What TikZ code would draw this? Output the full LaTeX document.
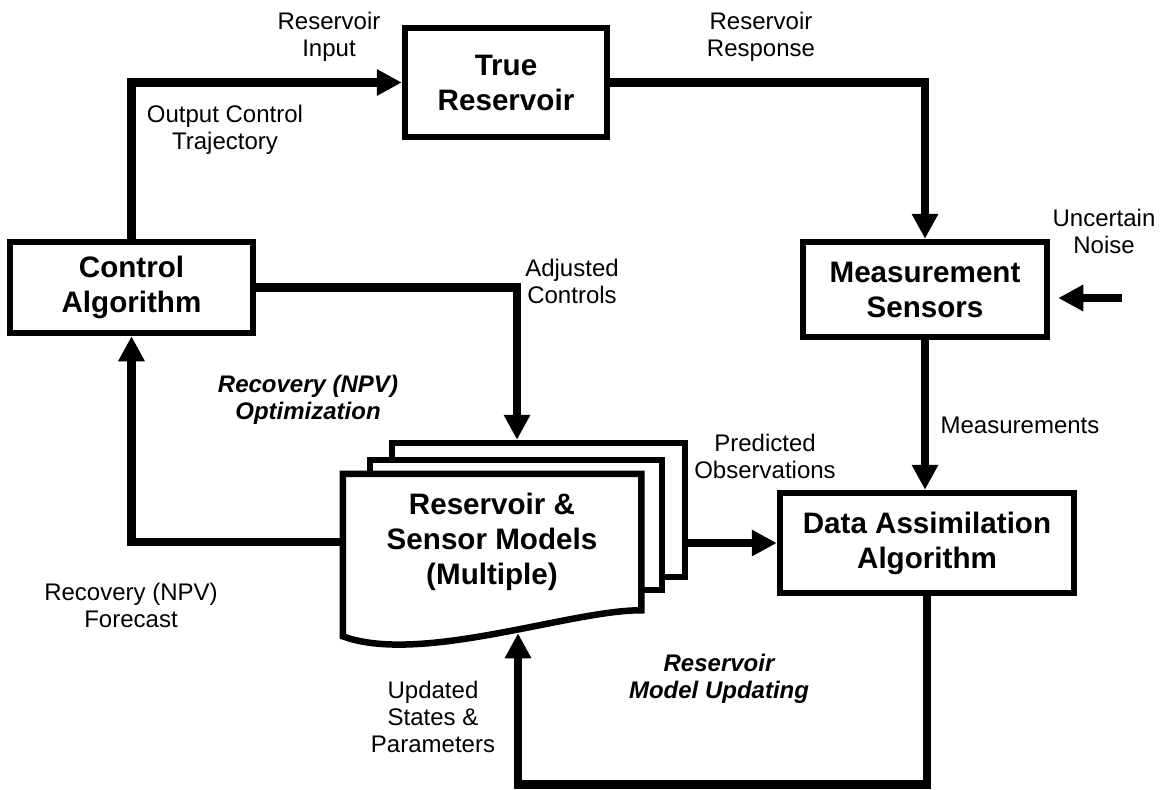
\documentclass[tikz,border=0pt]{standalone}
\usepackage{fontspec}
\setmainfont{Liberation Sans}
\usetikzlibrary{calc,arrows.meta}

\begin{document}
\begin{tikzpicture}[x=.5pt,y=-.5pt,
  box/.style={draw,line width=3.25pt,fill=white,align=center,inner sep=0pt,font=\fontsize{14.8}{17.5}\selectfont\bfseries},
  flow/.style={line width=4.25pt,-{Triangle[length=12.5pt,width=12.5pt]}},
  lbl/.style={align=center,inner sep=0pt,font=\fontsize{12}{13.5}\selectfont},
  ital/.style={lbl,font=\fontsize{12}{13.5}\selectfont\bfseries\itshape}]
\useasboundingbox (0,0) rectangle (1160,789);
\node[box,minimum width=121.5pt,minimum height=45.5pt] (ctrl) at (131.5,287.5) {Control\\Algorithm};
\node[box,minimum width=101pt,minimum height=54.5pt] (truer) at (506,82.5) {True\\Reservoir};
\node[box,minimum width=122pt,minimum height=47.5pt] (meas) at (925,289.5) {Measurement\\Sensors};
\node[box,minimum width=147pt,minimum height=50pt] (data) at (927,543) {Data Assimilation\\Algorithm};
\node[box,minimum width=146.5pt,minimum height=67pt] (back) at (538.5,510) {};
\node[box,minimum width=146pt,minimum height=65pt] (mid) at (516,525) {};
\node[box,draw=none,minimum width=146pt,minimum height=65pt] (front) at (492,542) {Reservoir \&\\Sensor Models\\(Multiple)};
\draw[line width=3.25pt] ([yshift=-13pt]front.south west) -- (front.north west) -- (front.north east) -- (front.south east)
  .. controls (570,610) and (420,665) .. ([yshift=-13pt]front.south west) -- cycle;
\coordinate (noise) at (1122,298);
\draw[flow] (ctrl.north) |- (truer.west);
\draw[flow] (truer.east) -| (meas.north);
\draw[flow] (meas.south) -- (meas.south |- data.north);
\draw[flow] (noise) -- ([xshift=4pt]meas.east |- noise);
\draw[flow] (ctrl.east) -| ([xshift=-10.75pt]back.north);
\draw[flow] (back.east |- data.west) -- (data.west);
\draw[flow] (front.west) -| (ctrl.south);
\draw[flow] (data.south) |- ([xshift=13pt,yshift=-87pt]front.south) -- ([xshift=13pt,yshift=-11.5pt]front.south);
\node[lbl] (rin) at (329,36.5) {Reservoir\\Input};
\node[lbl] (oct) at (225,130) {Output Control\\Trajectory};
\node[lbl] (rresp) at (761,36.5) {Reservoir\\Response};
\node[lbl] (unc) at (1104,231) {Uncertain\\Noise};
\node[lbl] (adj) at (572,281) {Adjusted\\Controls};
\node[ital] (opt) at (308,400) {Recovery (NPV)\\Optimization};
\node[lbl] (pred) at (765,456) {Predicted\\Observations};
\node[lbl] (msr) at (1020,425) {Measurements};
\node[lbl] (fc) at (131,605) {Recovery (NPV)\\Forecast};
\node[ital] (upd) at (719,679) {Reservoir\\Model Updating};
\node[lbl] (ust) at (433,717) {Updated\\States \&\\Parameters};
\end{tikzpicture}
\end{document}
